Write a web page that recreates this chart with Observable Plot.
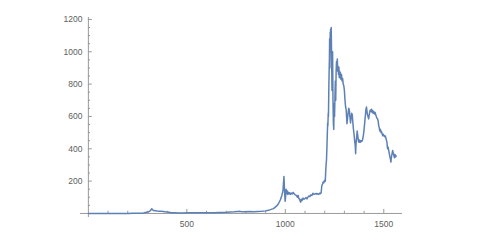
<!DOCTYPE html>
<html><head><meta charset="utf-8">
<script src="https://cdn.jsdelivr.net/npm/d3@7"></script>
<script src="https://cdn.jsdelivr.net/npm/@observablehq/plot@0.6"></script>
<style>body{margin:0;background:#fff}</style>
</head><body><div id="chart"></div>
<script>
// [day index, price] pairs
const early = [[0,0.06],[50,0.07],[100,0.1],[150,0.3],[200,0.5],[230,0.9],[260,1],[280,3],[295,7],[305,9],[315,18],[322,29],[326,22],[332,18],[340,17],[350,15],[360,14],[370,13],[380,12],[390,10],[400,9],[410,7],[420,5],[440,5],[460,3],[480,3],[500,4],[520,5],[540,5],[560,4.8],[580,5],[600,5],[620,5],[640,5],[660,5.5],[680,6.5],[700,7],[720,9],[740,10],[760,12],[770,13],[780,10],[800,11],[820,12],[840,11],[860,12],[880,13],[900,16],[920,22],[940,30],[955,45],[965,60],[975,85],[982,110],[988,140]];
const spring2013 = [[993,228],[995,170],[997,120],[999,75],[1002,110],[1004,150],[1006,125],[1009,140],[1012,118],[1015,132],[1018,120],[1022,128],[1026,118],[1030,126],[1035,120],[1040,130],[1045,122],[1050,115],[1055,112],[1058,108],[1062,100],[1065,112],[1068,95],[1072,88],[1075,78],[1078,70],[1081,88],[1085,80],[1090,95],[1095,88],[1100,92],[1105,98],[1110,90],[1115,102],[1120,108],[1125,104],[1130,115],[1135,112],[1140,125],[1145,118],[1150,120],[1155,124],[1160,119],[1165,123],[1170,118],[1175,126],[1178,122],[1182,128],[1185,170],[1189,182],[1192,195],[1196,190],[1199,205]];
const bubble = [[1203,200],[1205,260],[1207,300],[1209,330],[1211,400],[1213,480],[1215,560],[1216,540],[1218,620],[1219,600],[1221,780],[1222,850],[1224,960],[1225,1080],[1226,900],[1228,1120],[1229,1000],[1230,1140],[1231,1050],[1233,1150],[1235,980],[1237,760],[1239,900],[1240,1000],[1242,700],[1244,560],[1246,520],[1248,680],[1250,600],[1252,720],[1254,820],[1256,700],[1258,880],[1260,940],[1262,900],[1264,955],[1266,880],[1268,910],[1270,860],[1272,905],[1274,840],[1276,880],[1278,850],[1280,870],[1282,830],[1285,860],[1288,820],[1291,835],[1294,800],[1297,790],[1300,760]];
const decline2014 = [[1303,700],[1306,660],[1309,640],[1311,600],[1313,555],[1316,590],[1319,620],[1322,650],[1325,640],[1328,600],[1331,560],[1334,590],[1337,620],[1340,610],[1343,560],[1346,520],[1349,490],[1352,450],[1355,420],[1357,370],[1359,430],[1362,470],[1365,510],[1368,480],[1371,450],[1374,440],[1377,455],[1380,440],[1384,450],[1388,445],[1392,455],[1396,480],[1400,520],[1403,560],[1406,600],[1409,640],[1412,658],[1414,640],[1417,610],[1420,600],[1423,585],[1426,610],[1429,630],[1432,640],[1435,630],[1438,645],[1441,625],[1444,635],[1447,620],[1450,630],[1453,615],[1456,625],[1459,610],[1462,600],[1465,590],[1468,585],[1471,575],[1474,545],[1477,530],[1480,510],[1483,520],[1486,500],[1489,505],[1492,490],[1495,480],[1498,490],[1501,480],[1504,475],[1507,480],[1510,470],[1513,455],[1516,440],[1519,400],[1522,410],[1525,390],[1528,370],[1531,350],[1534,335],[1536,318],[1539,350],[1542,370],[1545,390],[1548,375],[1551,360],[1554,345],[1557,365],[1560,350],[1563,355]];
const xMajor = [500,1000,1500];
const xMinor = [100,200,300,400,600,700,800,900,1100,1200,1300,1400];
const yMajor = [200,400,600,800,1000,1200];
const yMinor = [50,100,150,250,300,350,450,500,550,650,700,750,850,900,950,1050,1100,1150];

const data = [...early, ...spring2013, ...bubble, ...decline2014].map(([day,price])=>({day,price}));
const W=480,H=240,mL=80,mR=78,mT=17,mB=23;
const xDom=[-40,1595], yDom=[-25,1212];
const kx=(W-mL-mR)/(xDom[1]-xDom[0]);
const ky=(H-mT-mB)/(yDom[1]-yDom[0]);
const ax="#9a9a9a", lab="#606060";
const chart = Plot.plot({
  width:W, height:H, marginLeft:mL, marginRight:mR, marginTop:mT, marginBottom:mB,
  x:{domain:xDom, axis:null}, y:{domain:yDom, axis:null},
  style:{background:"#fff", fontFamily:"'Liberation Sans', Arial, sans-serif", fontSize:"8.5px"},
  marks:[
    Plot.ruleY([0],{x1:xDom[0],x2:xDom[1],stroke:ax,strokeWidth:1}),
    Plot.ruleX([0],{y1:yDom[0],y2:yDom[1],stroke:ax,strokeWidth:1}),
    Plot.ruleX(xMajor,{x:d=>d,y1:0,y2:4/ky,stroke:ax}),
    Plot.ruleX(xMinor,{x:d=>d,y1:0,y2:2.2/ky,stroke:ax}),
    Plot.ruleY(yMajor,{y:d=>d,x1:0,x2:4/kx,stroke:ax}),
    Plot.ruleY(yMinor,{y:d=>d,x1:0,x2:2.2/kx,stroke:ax}),
    Plot.text(xMajor,{x:d=>d,y:0,dy:11,text:d=>String(d),fill:lab,textAnchor:"middle"}),
    Plot.text(yMajor,{x:0,y:d=>d,dx:-6,text:d=>String(d),fill:lab,textAnchor:"end"}),
    Plot.line(data,{x:"day",y:"price",stroke:"#5E81B5",strokeWidth:1.5,strokeLinejoin:"round"})
  ]
});
document.getElementById("chart").appendChild(chart);
</script>
</body></html>
